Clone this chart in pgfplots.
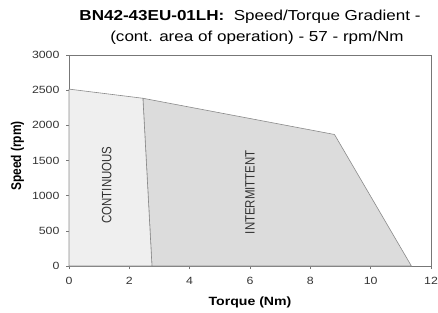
\documentclass[border=0pt]{standalone}
\usepackage{graphicx}
\usepackage{pgfplots}
\pgfplotsset{compat=1.18}
\usepackage{fontspec}
\setmainfont{Liberation Sans}
\definecolor{contfill}{HTML}{EFEFEF}
\definecolor{intfill}{HTML}{DCDCDC}
\definecolor{edge}{HTML}{8A8A8A}
\definecolor{axisgray}{HTML}{777777}
\newcommand{\hs}[1]{\scalebox{1.18}[1]{#1}}
\newcommand{\vs}[1]{\scalebox{1}[1.18]{#1}}
\begin{document}
\begin{tikzpicture}[x=1bp,y=1bp]
\path[use as bounding box] (0,0) rectangle (438,312);
\begin{axis}[
  at={(69bp,46bp)}, anchor=south west,
  scale only axis, width=362bp, height=211bp,
  xmin=0, xmax=12, ymin=0, ymax=3000,
  xtick={0,2,...,12}, ytick={0,500,...,3000},
  tick align=outside, tick pos=left,
  major tick length=3bp,
  axis line style={axisgray, line width=0.8pt},
  tick style={axisgray, line width=0.6pt},
  every axis plot/.append style={line width=0.6pt},
  tick label style={font=\fontsize{10.5}{12}\selectfont, color=black!80},
  xticklabel={\hs{\pgfmathprintnumber[assume math mode=true]{\tick}}},
  yticklabel={\hs{\pgfmathprintnumber[assume math mode=true,1000 sep={}]{\tick}}},
  yticklabel style={xshift=-3bp},
  xticklabel style={yshift=-5bp},
  clip=false,
]
\addplot[draw=edge, fill=intfill] coordinates {(2.45,2385) (8.8,1870) (11.35,0) (2.75,0)} -- cycle;
\addplot[draw=edge, fill=contfill] coordinates {(0,2515) (2.45,2385) (2.75,0) (0,0)} -- cycle;
\node[rotate=90, font=\fontsize{11.5}{12}\selectfont, color=black!80] at (axis cs:1.25,1150) {\vs{CONTINUOUS}};
\node[rotate=90, font=\fontsize{11.5}{12}\selectfont, color=black!80] at (axis cs:6.0,1050) {\vs{INTERMITTENT}};
\end{axis}
\node[font=\fontsize{12}{14}\selectfont\bfseries] at (250,10) {\hs{Torque (Nm)}};
\node[rotate=90, font=\fontsize{12}{14}\selectfont\bfseries] at (17.5,156) {\vs{Speed (rpm)}};
\node[font=\fontsize{14.5}{16}\selectfont] at (250,295) {\hs{\textbf{BN42-43EU-01LH:}\ \ Speed/Torque Gradient -}};
\node[font=\fontsize{14.5}{16}\selectfont] at (257,274.5) {\hs{(cont. area of operation) - 57 - rpm/Nm}};
\end{tikzpicture}
\end{document}
